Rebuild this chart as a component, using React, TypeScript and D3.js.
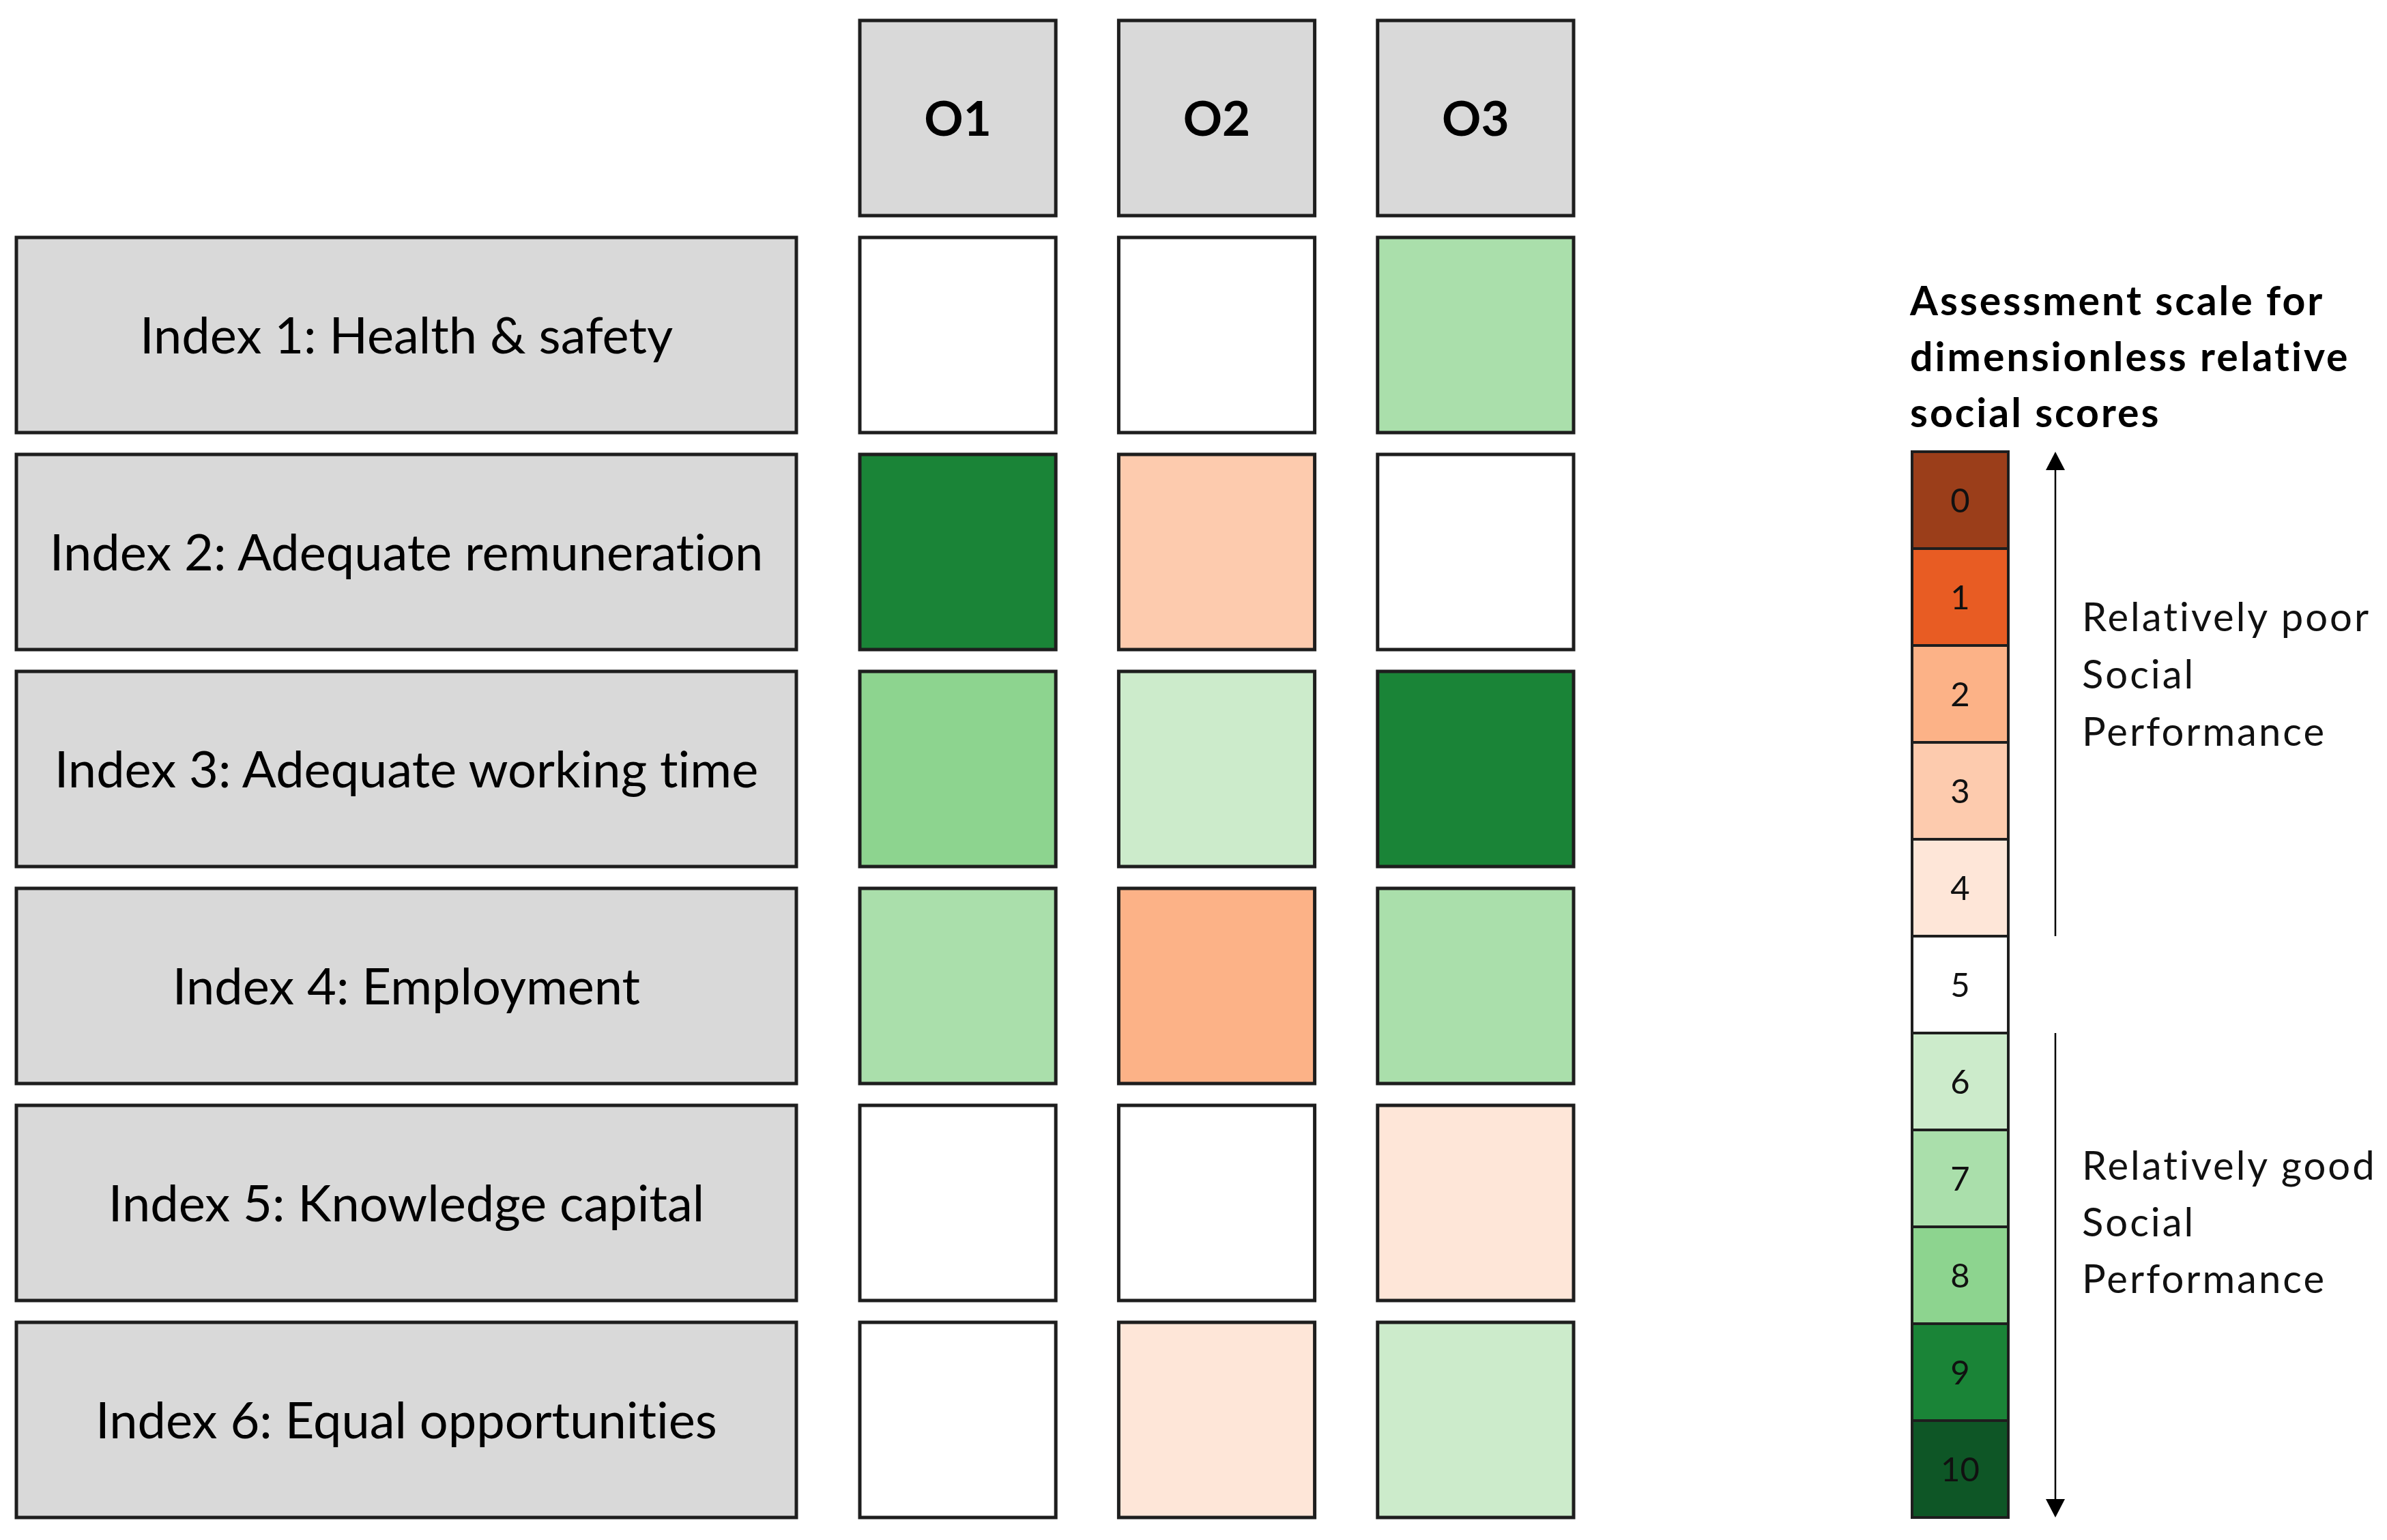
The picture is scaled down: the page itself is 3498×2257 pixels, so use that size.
import React from "react";
import * as d3 from "d3";

const indices = [
  "Index 1: Health & safety",
  "Index 2: Adequate remuneration",
  "Index 3: Adequate working time",
  "Index 4: Employment",
  "Index 5: Knowledge capital",
  "Index 6: Equal opportunities",
];
const options = ["O1", "O2", "O3"];
// scores per index row, for O1, O2, O3
const scoresO1 = [5, 9, 8, 7, 5, 5];
const scoresO2 = [5, 3, 6, 2, 5, 4];
const scoresO3 = [7, 5, 9, 7, 4, 6];
const scaleValues = [0, 1, 2, 3, 4, 5, 6, 7, 8, 9, 10];
const scaleColors = [
  "#9B3E1A", "#E85C23", "#FCB287", "#FDCBAE", "#FEE6D8", "#FFFFFF",
  "#CCEBCB", "#AADFAB", "#8DD48F", "#1A8437", "#0E5626",
];
const titleLines = ["Assessment scale for", "dimensionless relative", "social scores"];
const poorLines = ["Relatively poor", "Social", "Performance"];
const goodLines = ["Relatively good", "Social", "Performance"];

const W = 3498;
const H = 2257;
const FONT = "Lato, 'Open Sans', sans-serif";
const STROKE = "#1e1e1e";

export default function App() {
  const series = [scoresO1, scoresO2, scoresO3];
  const rowIdx = d3.range(indices.length);
  const y = d3.scaleBand<number>().domain(rowIdx).range([348, 2224]).paddingInner(0.1006).paddingOuter(0);
  const x = d3.scaleBand<string>().domain(options).range([1260, 2306]).paddingInner(0.243).paddingOuter(0);
  const color = d3.scaleOrdinal<number, string>().domain(scaleValues).range(scaleColors);
  const ly = d3.scaleBand<number>().domain(scaleValues).range([662, 2224]).padding(0);
  const headerY = (y(0) as number) - y.step();
  const labelX0 = 24;
  const labelX1 = 1167;
  const legX0 = 2802;
  const legX1 = 2943;
  const arrowX = 3012;
  const upTop = ly(0) as number;
  const upBottom = (ly(4) as number) + ly.bandwidth();
  const downTop = ly(6) as number;
  const downBottom = (ly(10) as number) + ly.bandwidth();
  const ah = 27;
  const aw = 14;
  const labelSize = 74;

  return (
    <svg width={W} height={H} style={{ position: "absolute", left: 0, top: 0, background: "#fff", fontVariantLigatures: "none" }} fontFamily={FONT}>
      <rect x={0} y={0} width={W} height={H} fill="#fff" />
      {/* header boxes */}
      {options.map((o) => (
        <g key={o}>
          <rect x={x(o)} y={headerY} width={x.bandwidth()} height={y.bandwidth()} fill="#D9D9D9" stroke={STROKE} strokeWidth={5} />
          <text x={(x(o) as number) + x.bandwidth() / 2} y={headerY + y.bandwidth() / 2 + 0.36 * 71} textAnchor="middle" fontSize={71} fontWeight={700} fill="#000">{o}</text>
        </g>
      ))}
      {/* row labels */}
      {indices.map((lab, i) => (
        <g key={lab}>
          <rect x={labelX0} y={y(i)} width={labelX1 - labelX0} height={y.bandwidth()} fill="#D9D9D9" stroke={STROKE} strokeWidth={5} />
          <text x={(labelX0 + labelX1) / 2} y={(y(i) as number) + y.bandwidth() / 2 + 0.36 * labelSize} textAnchor="middle" fontSize={labelSize} fill="#000">{lab}</text>
        </g>
      ))}
      {/* cells */}
      {options.map((o, j) =>
        series[j].map((v, i) => (
          <rect key={o + i} x={x(o)} y={y(i)} width={x.bandwidth()} height={y.bandwidth()} fill={color(v)} stroke={STROKE} strokeWidth={5} />
        ))
      )}
      {/* legend title */}
      {titleLines.map((t, k) => (
        <text key={t} x={2799} y={462 + k * 82} fontSize={59} fontWeight={700} letterSpacing={3} fill="#000">{t}</text>
      ))}
      {/* legend scale */}
      {scaleValues.map((v) => (
        <g key={v}>
          <rect x={legX0} y={ly(v)} width={legX1 - legX0} height={ly.bandwidth()} fill={color(v)} stroke={STROKE} strokeWidth={4} />
          <text x={(legX0 + legX1) / 2} y={(ly(v) as number) + ly.bandwidth() / 2 + 0.36 * 49} textAnchor="middle" fontSize={49} fill="#111">{v}</text>
        </g>
      ))}
      {/* arrows */}
      <line x1={arrowX} x2={arrowX} y1={upBottom} y2={upTop + ah - 2} stroke="#000" strokeWidth={2.5} />
      <path d={`M${arrowX},${upTop} L${arrowX - aw},${upTop + ah} L${arrowX + aw},${upTop + ah} Z`} fill="#000" />
      <line x1={arrowX} x2={arrowX} y1={downTop} y2={downBottom - ah + 2} stroke="#000" strokeWidth={2.5} />
      <path d={`M${arrowX},${downBottom} L${arrowX - aw},${downBottom - ah} L${arrowX + aw},${downBottom - ah} Z`} fill="#000" />
      {poorLines.map((t, k) => (
        <text key={"p" + k} x={3051} y={925 + k * 84} fontSize={58} letterSpacing={3} fill="#111">{t}</text>
      ))}
      {goodLines.map((t, k) => (
        <text key={"g" + k} x={3051} y={1729 + k * 83} fontSize={58} letterSpacing={3} fill="#111">{t}</text>
      ))}
    </svg>
  );
}
